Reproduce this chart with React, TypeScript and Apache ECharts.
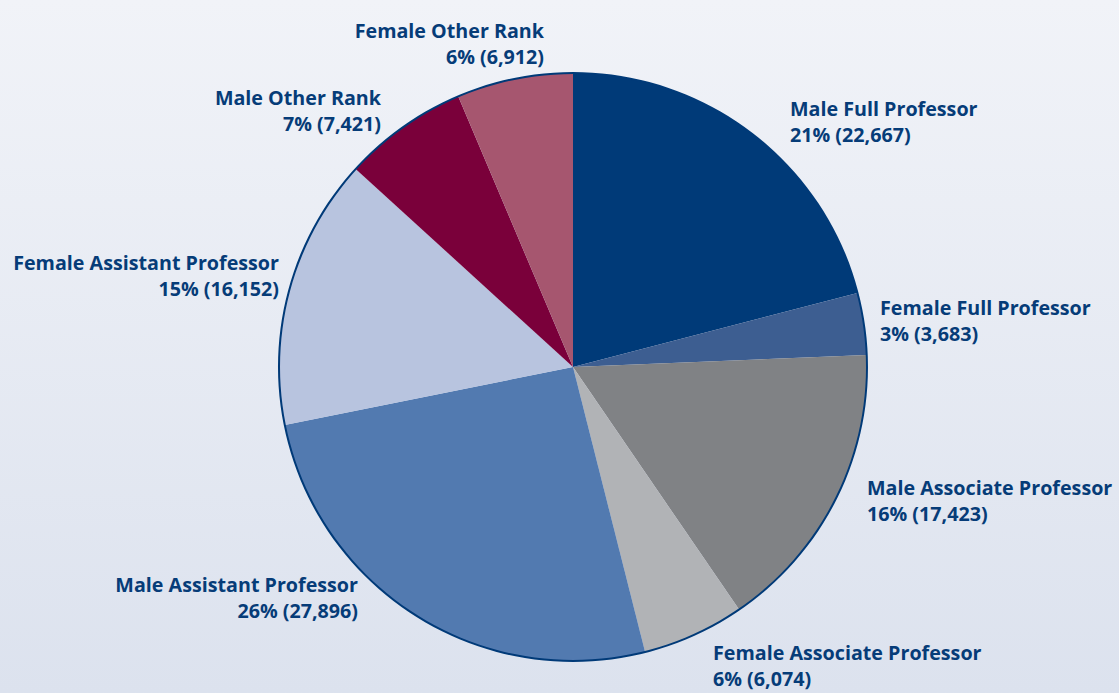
import React, { useEffect, useRef } from "react";
import * as echarts from "echarts";

const categories = [
  "Male Full Professor",
  "Female Full Professor",
  "Male Associate Professor",
  "Female Associate Professor",
  "Male Assistant Professor",
  "Female Assistant Professor",
  "Male Other Rank",
  "Female Other Rank",
];
const values = [22667, 3683, 17423, 6074, 27896, 16152, 7421, 6912];
const colors = [
  "#003a78",
  "#3d5e91",
  "#808285",
  "#b1b3b6",
  "#527ab0",
  "#b8c4df",
  "#7a003a",
  "#a6566f",
];
// label anchor: [x, y(middle), align]
const labelPos: [number, number, string][] = [
  [790, 121, "left"],
  [880, 320, "left"],
  [867, 500, "left"],
  [713, 665, "left"],
  [358, 597, "right"],
  [279, 275, "right"],
  [381, 110, "right"],
  [544, 43, "right"],
];

export default function App() {
  const ref = useRef<HTMLDivElement>(null);
  useEffect(() => {
    if (!ref.current) return;
    const chart = echarts.init(ref.current, null, { renderer: "svg" });
    const center = [573, 367];
    const R = 294;
    chart.setOption({
      animation: false,
      backgroundColor: {
        type: "linear",
        x: 0,
        y: 0,
        x2: 0,
        y2: 1,
        colorStops: [
          { offset: 0, color: "#f1f3f8" },
          { offset: 1, color: "#dce2ee" },
        ],
      },
      series: [
        {
          type: "pie",
          center,
          radius: R,
          startAngle: 90,
          clockwise: true,
          avoidLabelOverlap: false,
          data: categories.map((c, i) => ({
            name: c,
            value: values[i],
            itemStyle: { color: colors[i] },
          })),
          label: {
            show: true,
            position: "outside",
            color: "#063c78",
            fontFamily: "Open Sans",
            fontWeight: "bold",
            fontSize: 19.7,
            lineHeight: 26,
            formatter: (p: any) =>
              p.name +
              "\n" +
              Math.round(p.percent) +
              "% (" +
              Number(p.value).toLocaleString("en-US") +
              ")",
          },
          labelLine: { show: false, length: 0, length2: 0 },
          labelLayout: (params: any) => {
            const lp = labelPos[params.dataIndex];
            return {
              x: lp[0],
              y: lp[1],
              align: lp[2],
              verticalAlign: "middle",
            };
          },
          emphasis: { disabled: true },
        },
        {
          type: "pie",
          center,
          radius: [R - 1, R + 1],
          silent: true,
          label: { show: false },
          labelLine: { show: false },
          data: [{ value: 1, name: "", itemStyle: { color: "#003a78" } }],
        },
      ],
    });
    return () => chart.dispose();
  }, []);
  return (
    <div
      ref={ref}
      style={{ position: "fixed", left: 0, top: 0, width: 1119, height: 693 }}
    />
  );
}
